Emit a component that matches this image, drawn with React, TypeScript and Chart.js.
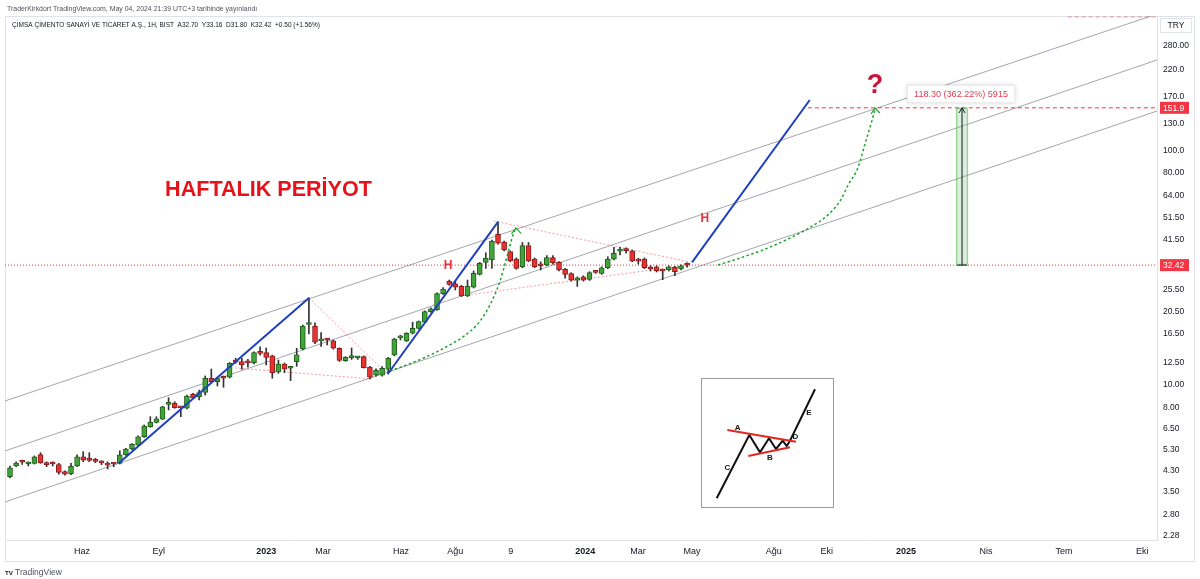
import React, { useEffect, useRef } from "react";
import { Chart, registerables } from "chart.js";

Chart.register(...registerables);

const FONT = '"Liberation Sans", Arial, Helvetica, sans-serif';

// ---- Weekly candles (x = week index) ----
const opens = [
  4.06, 4.51, 4.70, 4.60, 4.63, 5.04, 4.66, 4.62, 4.57, 4.27,
  4.17, 4.51, 4.94, 4.79, 4.80, 4.67, 4.64, 4.62, 4.63, 5.04,
  5.33, 5.54, 6.01, 6.63, 6.92, 7.15, 8.26, 8.34, 8.04, 7.95,
  9.11, 8.91, 9.30, 10.68, 10.33, 10.75, 10.78, 12.77, 12.56, 12.46,
  12.44, 13.67, 13.72, 13.30, 11.35, 12.27, 11.78, 12.56, 14.23, 18.10,
  17.83, 15.42, 15.58, 15.40, 14.33, 12.68, 13.08, 13.05, 13.20, 11.90,
  11.00, 11.00, 11.66, 13.43, 15.88, 15.40, 16.60, 17.43, 18.50, 20.55,
  20.90, 24.50, 27.72, 27.00, 26.35, 23.97, 26.10, 29.60, 33.30, 34.10,
  43.90, 40.60, 37.00, 34.40, 31.90, 39.30, 34.40, 32.30, 32.50, 34.90,
  33.30, 31.10, 29.80, 28.00, 28.90, 28.20, 30.30, 29.90, 31.60, 34.40,
  37.20, 37.60, 37.30, 33.90, 34.40, 31.90, 31.90, 30.70, 30.90, 31.70,
  31.20, 32.70,
];
const highs = [
  4.51, 4.70, 4.78, 4.70, 4.98, 5.14, 4.70, 4.70, 4.63, 4.30,
  4.63, 5.03, 5.19, 5.14, 4.86, 4.75, 4.70, 4.66, 5.24, 5.36,
  5.62, 6.07, 6.75, 7.32, 7.32, 8.12, 8.82, 8.48, 8.07, 9.05,
  9.20, 9.51, 10.92, 11.69, 10.75, 10.92, 12.45, 12.99, 12.99, 12.86,
  13.85, 14.55, 14.37, 13.40, 12.77, 12.40, 11.90, 14.33, 18.00, 23.50,
  18.40, 16.70, 15.80, 15.55, 14.40, 13.20, 14.37, 13.20, 13.30, 12.00,
  11.70, 11.96, 13.10, 15.80, 16.30, 16.70, 18.50, 18.75, 20.70, 21.30,
  24.70, 25.98, 28.00, 27.72, 26.60, 28.00, 30.60, 33.30, 36.60, 41.50,
  49.60, 41.00, 37.30, 34.80, 40.50, 40.50, 34.80, 33.50, 35.60, 35.60,
  33.60, 31.40, 30.10, 28.90, 29.20, 30.40, 30.60, 31.90, 35.20, 38.60,
  38.60, 38.40, 37.60, 34.70, 34.80, 32.20, 32.20, 30.90, 32.20, 32.00,
  32.50, 33.16,
];
const lows = [
  4.01, 4.48, 4.58, 4.51, 4.60, 4.63, 4.48, 4.51, 4.16, 4.12,
  4.14, 4.48, 4.70, 4.70, 4.66, 4.57, 4.38, 4.48, 4.60, 5.00,
  5.30, 5.50, 5.97, 6.60, 6.88, 7.12, 7.82, 7.95, 7.32, 7.90,
  8.78, 8.62, 9.05, 10.25, 9.89, 9.77, 10.70, 12.36, 11.66, 11.90,
  12.30, 13.40, 12.16, 10.68, 11.20, 11.28, 10.43, 12.00, 14.10, 16.48,
  15.00, 14.60, 14.80, 14.20, 12.60, 12.60, 12.85, 12.85, 11.80, 10.60,
  10.90, 10.90, 11.20, 13.30, 15.55, 15.30, 16.50, 17.30, 18.40, 20.40,
  20.80, 24.30, 26.60, 25.40, 23.80, 23.80, 25.90, 29.40, 31.40, 31.40,
  39.80, 37.30, 33.50, 31.10, 31.60, 33.50, 31.60, 30.90, 32.20, 32.70,
  30.60, 28.50, 27.70, 26.30, 27.70, 27.90, 29.90, 29.60, 31.30, 34.10,
  35.80, 36.50, 33.50, 32.70, 31.30, 30.60, 30.30, 28.10, 30.60, 29.20,
  30.90, 31.80,
];
const closes = [
  4.43, 4.64, 4.68, 4.62, 4.94, 4.66, 4.57, 4.60, 4.23, 4.16,
  4.50, 4.94, 4.78, 4.77, 4.72, 4.65, 4.55, 4.60, 5.03, 5.32,
  5.58, 6.01, 6.68, 6.94, 7.17, 8.07, 8.30, 7.99, 7.98, 8.97,
  8.82, 9.27, 10.68, 10.33, 10.64, 10.68, 12.36, 12.49, 12.16, 12.42,
  13.72, 13.63, 13.10, 11.28, 12.27, 11.66, 11.81, 13.43, 17.83, 18.15,
  15.20, 15.45, 15.52, 14.33, 12.73, 13.11, 13.12, 13.08, 11.85, 10.78,
  11.55, 11.78, 12.99, 15.70, 15.92, 16.60, 17.43, 18.60, 20.55, 21.10,
  24.50, 25.65, 26.84, 26.10, 23.97, 26.35, 29.90, 33.00, 34.70, 41.10,
  40.20, 37.60, 33.80, 31.40, 39.30, 33.80, 31.90, 32.20, 34.90, 33.20,
  30.90, 29.60, 28.00, 28.60, 28.00, 30.10, 30.20, 31.60, 34.40, 36.40,
  37.30, 37.40, 33.80, 33.70, 31.60, 31.20, 30.60, 30.60, 31.90, 30.40,
  32.20, 32.42,
];

// ---- Axes ----
const xMin = -0.82;
const xMax = 188.03;
const yMin = 2.181;
const yMax = 374.2;
const xTickWeeks = [11.8, 24.4, 42.0, 51.3, 64.1, 73.0, 82.1, 94.3, 102.95, 111.8, 125.2, 133.9, 146.9, 160.0, 172.8, 185.6];
const xTickLabels = ["Haz", "Eyl", "2023", "Mar", "Haz", "Ağu", "9", "2024", "Mar", "May", "Ağu", "Eki", "2025", "Nis", "Tem", "Eki"];
const yTickValues = [2.28, 2.8, 3.5, 4.3, 5.3, 6.5, 8, 10, 12.5, 16.5, 20.5, 25.5, 41.5, 51.5, 64, 80, 100, 130, 170, 220, 280];
const yTickLabels = ["2.28", "2.80", "3.50", "4.30", "5.30", "6.50", "8.00", "10.00", "12.50", "16.50", "20.50", "25.50", "41.50", "51.50", "64.00", "80.00", "100.0", "130.0", "170.0", "220.0", "280.00"];

// ---- Price markers ----
const lastPrice = 32.42;
const targetPrice = 151.9;
const markerValues = [lastPrice, targetPrice];
const markerLabels = ["32.42", "151.9"];

// ---- Drawings: [week, price] ----
const channelUpper = [[-0.82, 8.54], [188.03, 381.5]];
const channelMiddle = [[-0.82, 5.23], [188.03, 242.9]];
const channelLower = [[-0.82, 3.168], [188.03, 147.2]];

const blueLeg1 = [[17.87, 4.65], [49, 23.5]];
const blueLeg2 = [[61.9, 11.1], [80, 49.6]];
const blueLeg3 = [[111.8, 33.3], [131.1, 164]];

const pinkLeg1 = [[49, 23.5], [61.15, 11.58]];
const pinkLeg2 = [[36.9, 11.81], [59.3, 10.6]];
const pinkLeg3 = [[79.3, 50.0], [111.5, 33.4]];
const pinkLeg4 = [[74.9, 24.15], [111.1, 32.45]];

const greenCurve1 = [[62.3, 11.47], [65.0, 12.16], [68.3, 13.19], [71.6, 14.56], [74.3, 16.05], [76.5, 17.99], [78.1, 20.55], [79.2, 23.39], [80.3, 27.54], [81.4, 34.67], [82.2, 41.5], [82.8, 46.25]];
const greenArrow1 = [[82.2, 44.0], [82.95, 46.7], [83.8, 44.2]];
const greenCurve2 = [[116.07, 32.45], [119.5, 34.63], [123.7, 37.86], [127.8, 42.2], [131.2, 47.04], [134.1, 53.1], [136.1, 61.04], [137.4, 71.2], [139.0, 84.4], [140.3, 109.7], [141.3, 134.0], [141.8, 149.3]];
const greenArrow2 = [[141.15, 142.9], [141.8, 151.6], [142.6, 144.4]];

const targetLine = [[130.8, targetPrice], [188.03, targetPrice]];
const topDashed = [[173.4, 370.6], [188.03, 370.6]];

const measureWeek = 156.07;
const measureArrow = [[155.57, 144.4], [156.07, 151.9], [156.56, 144.4]];
const measureBase = [[155.25, lastPrice], [156.89, lastPrice]];

// ---- Text annotations (anchored in data space) ----
const chartTexts = [
  { text: "HAFTALIK PERİYOT", week: 42.38, price: 67.8, width: 207, weight: "bold", color: "#e5121c" },
  { text: "H", week: 71.8, price: 32.14, size: 12, weight: "bold", color: "#e8313a" },
  { text: "H", week: 113.9, price: 51.0, size: 12, weight: "bold", color: "#e8313a" },
  { text: "?", week: 141.8, price: 188.2, size: 27, weight: "bold", color: "#c8163a" },
];
const measureLabel = { text: "118.30 (362.22%) 5915", week: 155.9, price: 173.9, width: 94, color: "#e23a4f" };

const headerLine1 = "TraderKirkdort TradingView.com, May 04, 2024 21:39 UTC+3 tarihinde yayınlandı";
const headerLine2 = "ÇİMSA ÇİMENTO SANAYİ VE TİCARET A.Ş., 1H, BIST  A32.70  Y33.16  D31.80  K32.42  +0.50 (+1.56%)";

// ---- Inset diagram (box-local coordinates) ----
const insetPath = [[14.7, 119.3], [47.3, 56], [58, 73.3], [67, 59.3], [74, 70], [80.7, 61.7], [84.7, 67], [88, 61.7], [113, 10.3]];
const insetUpper = [[25.3, 51], [94, 62.7]];
const insetLower = [[46.3, 77], [88, 68.3]];
const insetLetters = ["A", "B", "C", "D", "E"];
const insetLetterPos = [[35.7, 48.3], [68, 78.3], [25.3, 88.3], [93.3, 57.7], [107, 33.7]];

const GREEN_FILL = "#43a33b";
const GREEN_EDGE = "#1f5f1a";
const RED_FILL = "#e8322f";
const RED_EDGE = "#8e1b1b";
const CHANNEL = "#a3a6af";
const BLUE = "#1f3fc0";
const PINK = "rgba(242,54,69,0.5)";
const RED = "#f23645";
const DOTGREEN = "#1fa32a";

const toXY = (pts: number[][]) => pts.map(([x, y]) => ({ x, y }));

function lineDS(points: number[][], color: string, width: number, dash: number[], order: number, extra: any = {}) {
  return {
    type: "line",
    data: toXY(points),
    borderColor: color,
    borderWidth: width,
    borderDash: dash,
    pointRadius: 0,
    pointHoverRadius: 0,
    fill: false,
    tension: 0,
    order,
    ...extra,
  };
}

function fitFont(ctx: CanvasRenderingContext2D, text: string, width: number, weight: string) {
  ctx.font = `${weight} 20px ${FONT}`;
  const w = ctx.measureText(text).width;
  const size = (20 * width) / w;
  ctx.font = `${weight} ${size}px ${FONT}`;
  return size;
}

const overlayPlugin = {
  id: "overlay",
  beforeDraw(chart: any) {
    const ctx = chart.ctx;
    ctx.save();
    ctx.strokeStyle = "#dfe2e8";
    ctx.lineWidth = 1;
    ctx.strokeRect(5.5, 16.5, 1189, 545);
    ctx.restore();
  },
  afterDatasetsDraw(chart: any) {
    const ctx = chart.ctx;
    const xs = chart.scales.x;
    const ys = chart.scales.y;
    ctx.save();
    ctx.textAlign = "center";
    ctx.textBaseline = "middle";
    chartTexts.forEach((t) => {
      const px = xs.getPixelForValue(t.week);
      const py = ys.getPixelForValue(t.price);
      if (t.width) fitFont(ctx, t.text, t.width, t.weight);
      else ctx.font = `${t.weight} ${t.size}px ${FONT}`;
      ctx.fillStyle = t.color;
      ctx.fillText(t.text, px, py);
    });
    // measurement label box
    const mx = xs.getPixelForValue(measureLabel.week);
    const my = ys.getPixelForValue(measureLabel.price);
    fitFont(ctx, measureLabel.text, measureLabel.width, "normal");
    const bw = measureLabel.width + 14;
    const bh = 18;
    ctx.save();
    ctx.shadowColor = "rgba(0,0,0,0.18)";
    ctx.shadowBlur = 4;
    ctx.fillStyle = "#ffffff";
    ctx.fillRect(mx - bw / 2, my - bh / 2, bw, bh);
    ctx.restore();
    ctx.strokeStyle = "rgba(0,0,0,0.08)";
    ctx.strokeRect(mx - bw / 2 + 0.5, my - bh / 2 + 0.5, bw - 1, bh - 1);
    ctx.fillStyle = measureLabel.color;
    ctx.fillText(measureLabel.text, mx, my + 0.5);
    ctx.restore();
  },
  afterDraw(chart: any) {
    const ctx = chart.ctx;
    const ys = chart.scales.y;
    ctx.save();
    // price markers on axis
    markerValues.forEach((v, i) => {
      const py = ys.getPixelForValue(v);
      ctx.fillStyle = RED;
      ctx.fillRect(ys.left + 3, py - 6, 29, 12);
      ctx.fillStyle = "#ffffff";
      ctx.font = `8.5px ${FONT}`;
      ctx.textAlign = "left";
      ctx.textBaseline = "middle";
      ctx.fillText(markerLabels[i], ys.left + 6, py + 0.5);
    });
    // currency box
    ctx.strokeStyle = "#e0e3eb";
    ctx.strokeRect(1160.5, 18.5, 31, 14);
    ctx.fillStyle = "#131722";
    ctx.font = `8.5px ${FONT}`;
    ctx.textAlign = "center";
    ctx.fillText("TRY", 1176, 26);
    // header
    ctx.textAlign = "left";
    fitFont(ctx, headerLine1, 251, "normal");
    ctx.fillStyle = "#50535e";
    ctx.fillText(headerLine1, 7, 9.5);
    fitFont(ctx, headerLine2, 309, "normal");
    ctx.fillStyle = "#131722";
    ctx.fillText(headerLine2, 12, 25);
    // footer logo
    fitFont(ctx, "TV", 8, "bold");
    ctx.fillStyle = "#131722";
    ctx.fillText("TV", 5, 573);
    fitFont(ctx, "TradingView", 47, "normal");
    ctx.fillStyle = "#50535e";
    ctx.fillText("TradingView", 15, 573);
    ctx.restore();
  },
};

function mainConfig(): any {
  const wicks = closes.map((c, i) => ({ x: i, y: [lows[i], highs[i]] }));
  const bodies = closes.map((c, i) => ({ x: i, y: [opens[i], c] }));
  const isUp = (ctx: any) => {
    const i = ctx.dataIndex;
    return i === undefined || closes[i] >= opens[i];
  };
  const datasets: any[] = [
    lineDS(channelUpper, CHANNEL, 1, [], 7),
    lineDS(channelMiddle, CHANNEL, 1, [], 7),
    lineDS(channelLower, CHANNEL, 1, [], 7),
    lineDS(pinkLeg1, PINK, 1, [2, 2], 6),
    lineDS(pinkLeg2, PINK, 1, [2, 2], 6),
    lineDS(pinkLeg3, PINK, 1, [2, 2], 6),
    lineDS(pinkLeg4, PINK, 1, [2, 2], 6),
    lineDS([[xMin, lastPrice], [xMax, lastPrice]], RED, 1, [1, 2], 6),
    lineDS(targetLine, RED, 1, [4, 3], 6),
    lineDS(topDashed, PINK, 1, [4, 3], 6),
    {
      type: "bar",
      data: [{ x: measureWeek, y: [lastPrice, targetPrice] }],
      backgroundColor: "rgba(129,199,132,0.28)",
      borderColor: "rgba(76,175,80,0.55)",
      borderWidth: 1,
      borderSkipped: false,
      barThickness: 12,
      grouped: false,
      order: 5,
    },
    {
      type: "bar",
      data: wicks,
      backgroundColor: "#333333",
      borderWidth: 0,
      barThickness: 1,
      grouped: false,
      order: 4,
    },
    {
      type: "bar",
      data: bodies,
      backgroundColor: (ctx: any) => (isUp(ctx) ? GREEN_FILL : RED_FILL),
      borderColor: (ctx: any) => (isUp(ctx) ? GREEN_EDGE : RED_EDGE),
      borderWidth: 1,
      borderSkipped: false,
      barThickness: 5,
      minBarLength: 2,
      grouped: false,
      order: 3,
    },
    lineDS(blueLeg1, BLUE, 2, [], 1),
    lineDS(blueLeg2, BLUE, 2, [], 1),
    lineDS(blueLeg3, BLUE, 2, [], 1),
    lineDS(greenCurve1, DOTGREEN, 1.5, [2.5, 2.5], 1, { cubicInterpolationMode: "monotone" }),
    lineDS(greenCurve2, DOTGREEN, 1.5, [2.5, 2.5], 1, { cubicInterpolationMode: "monotone" }),
    lineDS(greenArrow1, DOTGREEN, 1.2, [], 1),
    lineDS(greenArrow2, DOTGREEN, 1.2, [], 1),
    lineDS([[measureWeek, lastPrice], [measureWeek, targetPrice]], "#131722", 1, [], 1),
    lineDS(measureArrow, "#131722", 1, [], 1),
    lineDS(measureBase, "#131722", 1, [], 1),
  ];
  return {
    type: "bar",
    data: { datasets },
    options: {
      responsive: false,
      animation: false,
      devicePixelRatio: 1,
      layout: { padding: { left: 5, top: 16, right: 5, bottom: 17 } },
      plugins: { legend: { display: false }, tooltip: { enabled: false } },
      events: [],
      scales: {
        x: {
          type: "linear",
          min: xMin,
          max: xMax,
          bounds: "data",
          offset: false,
          grid: { display: false, drawTicks: false },
          border: { display: true, color: "#dfe2e8" },
          afterBuildTicks: (s: any) => {
            s.ticks = xTickWeeks.map((v) => ({ value: v }));
          },
          afterFit: (s: any) => {
            s.height = 22;
          },
          ticks: {
            autoSkip: false,
            maxRotation: 0,
            minRotation: 0,
            padding: 6,
            color: "#131722",
            font: (c: any) => ({
              size: 9,
              family: FONT,
              weight: /^\d{4}$/.test(xTickLabels[c.index] || "") ? "bold" : "normal",
            }),
            callback: (_v: any, i: number) => xTickLabels[i],
          },
        },
        y: {
          type: "logarithmic",
          position: "right",
          min: yMin,
          max: yMax,
          bounds: "data",
          grid: { display: false, drawTicks: false },
          border: { display: true, color: "#dfe2e8" },
          afterBuildTicks: (s: any) => {
            s.ticks = yTickValues.map((v) => ({ value: v }));
          },
          afterFit: (s: any) => {
            s.width = 38;
          },
          ticks: {
            autoSkip: false,
            padding: 6,
            color: "#131722",
            font: { size: 8.5, family: FONT },
            callback: (_v: any, i: number) => yTickLabels[i],
          },
        },
      },
    },
    plugins: [overlayPlugin],
  };
}

const insetLettersPlugin = {
  id: "insetLetters",
  afterDatasetsDraw(chart: any) {
    const ctx = chart.ctx;
    const xs = chart.scales.x;
    const ys = chart.scales.y;
    ctx.save();
    ctx.font = `bold 8px ${FONT}`;
    ctx.fillStyle = "#111111";
    ctx.textAlign = "center";
    ctx.textBaseline = "middle";
    insetLetters.forEach((l, i) => {
      ctx.fillText(l, xs.getPixelForValue(insetLetterPos[i][0]), ys.getPixelForValue(insetLetterPos[i][1]));
    });
    ctx.restore();
  },
};

function insetConfig(): any {
  return {
    type: "scatter",
    data: {
      datasets: [
        { data: toXY(insetPath), showLine: true, borderColor: "#111111", borderWidth: 2, pointRadius: 0, order: 2 },
        { data: toXY(insetUpper), showLine: true, borderColor: "#e0281e", borderWidth: 2, pointRadius: 0, order: 1 },
        { data: toXY(insetLower), showLine: true, borderColor: "#e0281e", borderWidth: 2, pointRadius: 0, order: 1 },
      ],
    },
    options: {
      responsive: false,
      animation: false,
      devicePixelRatio: 1,
      events: [],
      layout: { padding: 0 },
      plugins: { legend: { display: false }, tooltip: { enabled: false } },
      scales: {
        x: { type: "linear", display: false, min: 0, max: 131 },
        y: { type: "linear", display: false, min: 0, max: 128, reverse: true },
      },
    },
    plugins: [insetLettersPlugin],
  };
}

export default function App() {
  const mainRef = useRef<HTMLCanvasElement>(null);
  const insetRef = useRef<HTMLCanvasElement>(null);
  useEffect(() => {
    const main = new Chart(mainRef.current as HTMLCanvasElement, mainConfig());
    const inset = new Chart(insetRef.current as HTMLCanvasElement, insetConfig());
    return () => {
      main.destroy();
      inset.destroy();
    };
  }, []);
  return (
    <div style={{ position: "fixed", left: 0, top: 0, width: 1200, height: 579, background: "#ffffff" }}>
      <canvas
        ref={mainRef}
        width={1200}
        height={579}
        style={{ position: "absolute", left: 0, top: 0, width: 1200, height: 579 }}
      />
      <div
        style={{
          position: "absolute",
          left: 701,
          top: 378,
          width: 131,
          height: 128,
          border: "1px solid #9a9a9a",
          background: "#ffffff",
        }}
      >
        <canvas ref={insetRef} width={131} height={128} style={{ display: "block", width: 131, height: 128 }} />
      </div>
    </div>
  );
}
